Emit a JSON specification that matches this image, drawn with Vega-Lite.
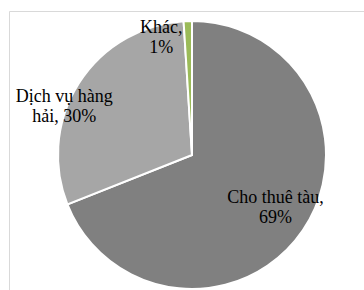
{
  "$schema": "https://vega.github.io/schema/vega-lite/v6.json",
  "autosize": "none",
  "width": 366,
  "height": 288,
  "padding": {"left": 9, "top": 11, "right": -11, "bottom": -9},
  "background": "white",
  "view": {"stroke": "#d9d9d9", "strokeWidth": 1, "fill": "white"},
  "data": {"values": [
    {"name": "Cho thuê tàu", "value": 69, "label": "Cho thuê tàu,\n69%"},
    {"name": "Dịch vụ hàng hải", "value": 30, "label": "Dịch vụ hàng\nhải, 30%"},
    {"name": "Khác", "value": 1, "label": "Khác,\n1%"}
  ]},
  "layer": [
    {
      "mark": {"type": "arc", "outerRadius": 134, "stroke": "white", "strokeWidth": 2},
      "encoding": {
        "theta": {"field": "value", "type": "quantitative", "stack": true},
        "order": {"field": "value", "sort": "descending"},
        "color": {"field": "name", "type": "nominal", "legend": null,
          "scale": {"domain": ["Cho thuê tàu", "Dịch vụ hàng hải", "Khác"], "range": ["#808080", "#a6a6a6", "#9bbb59"]}}
      }
    },
    {
      "mark": {"type": "text", "radius": 96, "dx": 4, "dy": -11, "font": "Liberation Serif", "fontSize": 18, "lineHeight": 20, "lineBreak": "\n", "align": "center", "baseline": "middle", "color": "black"},
      "encoding": {
        "theta": {"field": "value", "type": "quantitative", "stack": true},
        "order": {"field": "value", "sort": "descending"},
        "text": {"condition": {"test": "datum.name === 'Cho thuê tàu'", "field": "label"}, "value": ""}
      }
    },
    {
      "mark": {"type": "text", "radius": 137, "dx": -12, "dy": 15, "font": "Liberation Serif", "fontSize": 18, "lineHeight": 20, "lineBreak": "\n", "align": "center", "baseline": "middle", "color": "black"},
      "encoding": {
        "theta": {"field": "value", "type": "quantitative", "stack": true},
        "order": {"field": "value", "sort": "descending"},
        "text": {"condition": {"test": "datum.name === 'Dịch vụ hàng hải'", "field": "label"}, "value": ""}
      }
    },
    {
      "mark": {"type": "text", "radius": 122, "dx": -27, "dy": -5, "font": "Liberation Serif", "fontSize": 18, "lineHeight": 20, "lineBreak": "\n", "align": "center", "baseline": "middle", "color": "black"},
      "encoding": {
        "theta": {"field": "value", "type": "quantitative", "stack": true},
        "order": {"field": "value", "sort": "descending"},
        "text": {"condition": {"test": "datum.name === 'Khác'", "field": "label"}, "value": ""}
      }
    }
  ]
}
